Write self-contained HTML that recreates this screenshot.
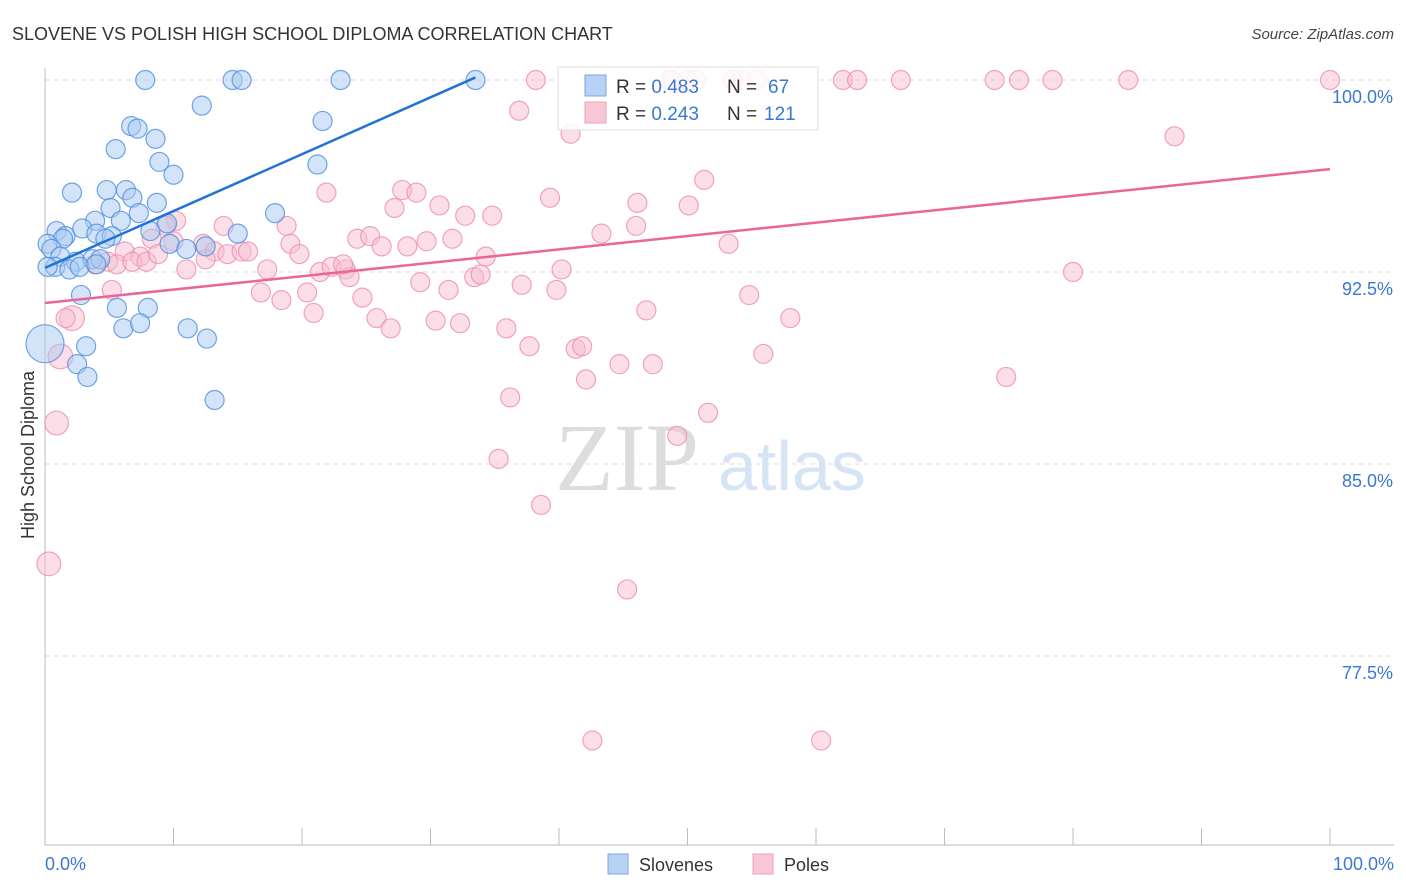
<!DOCTYPE html>
<html><head><meta charset="utf-8"><style>
body{margin:0;background:#fff;font-family:"Liberation Sans",sans-serif;}
#wrap{position:relative;width:1406px;height:892px;overflow:hidden;}
svg{position:absolute;left:0;top:0;}
</style></head><body>
<div id="wrap">
<svg id="chart" width="1406" height="892">
<text x="12" y="40" font-size="18" fill="#333">SLOVENE VS POLISH HIGH SCHOOL DIPLOMA CORRELATION CHART</text>
<text x="1394" y="39" font-size="15" font-style="italic" fill="#444" text-anchor="end">Source: ZipAtlas.com</text>
<text x="555" y="490" font-size="96" font-family="Liberation Serif,serif" fill="#ddd">ZIP</text>
<text x="718" y="490" font-size="70" fill="#d6e4f5">atlas</text>
<g id="grid"></g><g id="axes"></g><g id="pts"></g><g id="lines"></g>
<text transform="translate(34,455) rotate(-90)" font-size="18" fill="#333" text-anchor="middle">High School Diploma</text>
<text x="45" y="870" font-size="18" fill="#3a78d4">0.0%</text>
<text x="1394" y="870" font-size="18" fill="#3a78d4" text-anchor="end">100.0%</text>
<g>
<rect x="558" y="67" width="260" height="63" fill="#fff" fill-opacity="0.85" stroke="#ddd"/>
<rect x="585" y="75" width="21" height="21" fill="#b7d2f4" stroke="#7aa7e6"/>
<rect x="585" y="102" width="21" height="21" fill="#f8c7d5" stroke="#efa2b9"/>
<text x="616" y="93" font-size="19" fill="#333">R = <tspan fill="#3a78d4">0.483</tspan><tspan x="727">N =  </tspan><tspan x="768" fill="#3a78d4">67</tspan></text>
<text x="616" y="120" font-size="19" fill="#333">R = <tspan fill="#3a78d4">0.243</tspan><tspan x="727">N = </tspan><tspan x="764" fill="#3a78d4">121</tspan></text>
</g>
<g>
<rect x="608" y="854" width="20" height="20" fill="#b7d2f4" stroke="#7aa7e6"/>
<text x="639" y="871" font-size="18" fill="#333">Slovenes</text>
<rect x="753" y="854" width="20" height="20" fill="#f8c7d5" stroke="#efa2b9"/>
<text x="784" y="871" font-size="18" fill="#333">Poles</text>
</g>
</svg>
</div>
<script>
const yTicks=[100,92.5,85,77.5];
const yTickLabels=["100.0%","92.5%","85.0%","77.5%"];
const xTicks=[0,10,20,30,40,50,60,70,80,90,100];
const blueX=[7.8,14.6,15.3,23.0,33.5,12.2,21.6,6.7,7.2,8.6,5.5,8.9,21.2,10.0,2.1,4.8,6.3,6.8,5.1,7.3,8.7,17.9,3.9,5.9,8.2,9.5,0.9,1.6,2.9,4.0,5.2,1.4,0.2,0.5,1.2,2.4,3.7,4.3,0.8,1.9,2.7,2.8,8.0,5.6,6.1,7.4,11.1,12.6,3.2,2.5,3.3,13.2,15.0,9.7,11.0,12.5,0.0,4.0,0.2,4.7];
const blueY=[100,100,100,100,100,99.0,98.4,98.2,98.1,97.7,97.3,96.8,96.7,96.3,95.6,95.7,95.7,95.4,95.0,94.8,95.2,94.8,94.5,94.5,94.1,94.4,94.1,93.9,94.2,94.0,93.9,93.8,93.6,93.4,93.1,92.9,93.0,93.0,92.7,92.6,92.7,91.6,91.1,91.1,90.3,90.5,90.3,89.9,89.6,88.9,88.4,87.5,94.0,93.6,93.4,93.5,89.7,92.8,92.7,93.8];
const blueSize=blueX.map((v,i)=>i===56?2:1);
const pinkX=[38.2,48.6,50.0,50.7,54.2,55.4,62.1,63.2,66.6,73.9,75.8,78.4,84.3,100,53.5,48.8,36.9,40.9,87.9,51.3,21.9,27.8,28.9,39.3,50.1,46.1,27.2,30.7,32.7,34.8,13.9,18.8,46.0,10.2,9.4,24.3,25.3,43.3,53.2,8.3,10.0,12.3,19.1,26.2,28.2,29.7,31.7,34.3,6.2,7.4,4.9,5.6,6.8,7.9,8.8,11.0,13.2,14.2,15.3,15.8,17.3,19.8,21.4,22.3,23.4,23.7,23.2,29.2,31.4,33.4,33.9,37.1,40.2,80.0,5.2,16.8,18.4,20.4,24.7,39.8,54.8,20.9,25.8,26.9,30.4,32.3,35.9,46.8,58.0,2.1,1.6,37.7,41.3,41.8,44.7,47.3,55.9,1.2,42.1,74.8,36.2,51.6,49.2,0.9,35.3,38.6,0.3,45.3,42.6,60.4,12.5,3.9];
const pinkY=[100,100,100,100,100,100,100,100,100,100,100,100,100,100,100,100,98.8,97.9,97.8,96.1,95.6,95.7,95.6,95.4,95.1,95.2,95.0,95.1,94.7,94.7,94.3,94.3,94.3,94.5,94.3,93.8,93.9,94.0,93.6,93.8,93.7,93.6,93.6,93.5,93.5,93.7,93.8,93.1,93.3,93.1,92.9,92.8,92.9,92.9,93.2,92.6,93.3,93.2,93.3,93.3,92.6,93.2,92.5,92.7,92.6,92.3,92.8,92.1,91.8,92.3,92.4,92.0,92.6,92.5,91.8,91.7,91.4,91.7,91.5,91.8,91.6,90.9,90.7,90.3,90.6,90.5,90.3,91.0,90.7,90.7,90.7,89.6,89.5,89.6,88.9,88.9,89.3,89.2,88.3,88.4,87.6,87.0,86.1,86.6,85.2,83.4,81.1,80.1,74.2,74.2,93.0,92.8];
const pinkSize=pinkX.map((v,i)=>(i===89||i===97)?1.3:(i===103||i===106)?1.25:1);
const blueTrend=[[0,92.66],[33.5,100.1]];
const pinkTrend=[[0,91.29],[100,96.52]];
const X0=45,X1=1330,Y100=80,PXPER=25.6;
const sx=v=>X0+v/100*(X1-X0);
const sy=v=>Y100+(100-v)*PXPER;
const NS="http://www.w3.org/2000/svg";
function mk(tag,attrs,parent){const e=document.createElementNS(NS,tag);for(const k in attrs)e.setAttribute(k,attrs[k]);document.getElementById(parent).appendChild(e);return e;}
yTicks.forEach((t,i)=>{
 const g=mk('line',{x1:45,x2:1394,y1:sy(t),y2:sy(t),stroke:'#ddd','stroke-dasharray':'5,4'},'grid');
 
 
 const l=mk('text',{x:1393,y:sy(t)+23,'font-size':18,fill:'#3a78d4','text-anchor':'end'},'grid');
 l.textContent=yTickLabels[i];
 
 
});
const ax=mk('line',{x1:45,x2:45,y1:68,y2:845,stroke:'#bbb'},'axes');


const bx=mk('line',{x1:45,x2:1394,y1:845,y2:845,stroke:'#bbb'},'axes');


xTicks.forEach(t=>{
 const k=mk('line',{x1:sx(t),x2:sx(t),y1:828,y2:845,stroke:'#bbb'},'axes');
 
 
});
function dots(xs,ys,ss,fill,stroke,name){
 xs.forEach((x,i)=>{
  const c=mk('circle',{cx:sx(x),cy:sy(ys[i]),r:9.5*ss[i],fill:fill,'fill-opacity':0.5,stroke:stroke,'stroke-width':1.2,'stroke-opacity':0.8},'pts');
  
  
 });
}
dots(pinkX,pinkY,pinkSize,'#f8bdd0','#ec8fae','poles-point');
dots(blueX,blueY,blueSize,'#a9c9f1','#4c8ee0','slovenes-point');
const tb=mk('line',{x1:sx(blueTrend[0][0]),y1:sy(blueTrend[0][1]),x2:sx(blueTrend[1][0]),y2:sy(blueTrend[1][1]),stroke:'#2272d6','stroke-width':2.5},'lines');


const tp=mk('line',{x1:sx(pinkTrend[0][0]),y1:sy(pinkTrend[0][1]),x2:sx(pinkTrend[1][0]),y2:sy(pinkTrend[1][1]),stroke:'#e9659a','stroke-width':2.5},'lines');


</script>
</body></html>
